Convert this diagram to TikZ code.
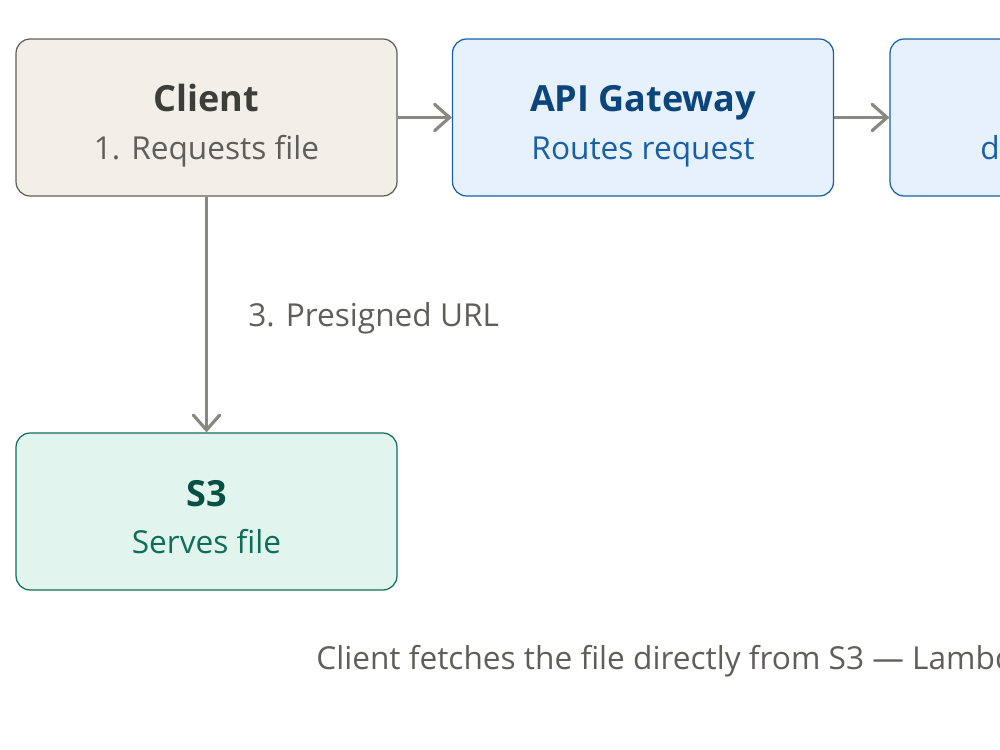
\documentclass[tikz,border=0pt]{standalone}
\usepackage{fontspec}
\setmainfont{Open Sans}
\usetikzlibrary{arrows.meta}
\definecolor{greyfill}{HTML}{F1EFE8}
\definecolor{greyline}{HTML}{5F5E5A}
\definecolor{greytitle}{HTML}{3D3D3A}
\definecolor{bluefill}{HTML}{E6F1FB}
\definecolor{blueline}{HTML}{185FA5}
\definecolor{bluetitle}{HTML}{0C447C}
\definecolor{greenfill}{HTML}{E1F5EE}
\definecolor{greenline}{HTML}{0F6E56}
\definecolor{greentitle}{HTML}{085041}
\definecolor{arrowgrey}{HTML}{888780}
\begin{document}
\begin{tikzpicture}[x=.02cm, y=-.02cm,
	box/.style={rounded corners=8pt, line width=.7pt, minimum width=7.62cm, minimum height=3.14cm, inner sep=0pt},
	title/.style={anchor=base, font=\fontsize{20.5}{23}\selectfont\bfseries},
	sub/.style={anchor=base, font=\fontsize{18}{21}\selectfont},
	note/.style={anchor=base west, inner sep=0pt, font=\fontsize{18}{21}\selectfont, text=greyline},
	flow/.style={draw=arrowgrey, line width=1.8pt, -{Straight Barb[length=8.5pt, width=15pt, line cap=round]}}]
	\path[use as bounding box, clip] (0,0) rectangle (1000,750);
	\node[box, draw=greyline,  fill=greyfill]  (client)  at (206.5,117.5) {};
	\node[box, draw=blueline,  fill=bluefill]  (gateway) at (643,117.5)   {};
	\node[box, draw=blueline,  fill=bluefill]  (lambda)  at (1080.5,117.5) {};
	\node[box, draw=greenline, fill=greenfill] (sthree)  at (206.5,511.5) {};
	\node[title, text=greytitle]  (clienttitle)  at (206.5,112) {Client};
	\node[sub,   text=greyline]   (clientsub)    at (206.5,159) {1. Requests file};
	\node[title, text=bluetitle]  (gatewaytitle) at (643,112)   {API Gateway};
	\node[sub,   text=blueline]   (gatewaysub)   at (643,159)   {Routes request};
	\node[sub,   anchor=base west, inner sep=0pt, text=blueline] (lambdasub) at (980,159) {d};
	\node[title, text=greentitle] (sthreetitle)  at (206.5,506) {S3};
	\node[sub,   text=greenline]  (sthreesub)    at (206.5,553) {Serves file};
	\draw[flow] (client) -- (gateway);
	\draw[flow] (gateway) -- (lambda);
	\draw[flow] (client) -- (sthree);
	\node[note] (urllabel) at (248,326) {3. Presigned URL};
	\node[note] (caption)  at (316,669) {Client fetches the file directly from S3 — Lambda};
\end{tikzpicture}
\end{document}
